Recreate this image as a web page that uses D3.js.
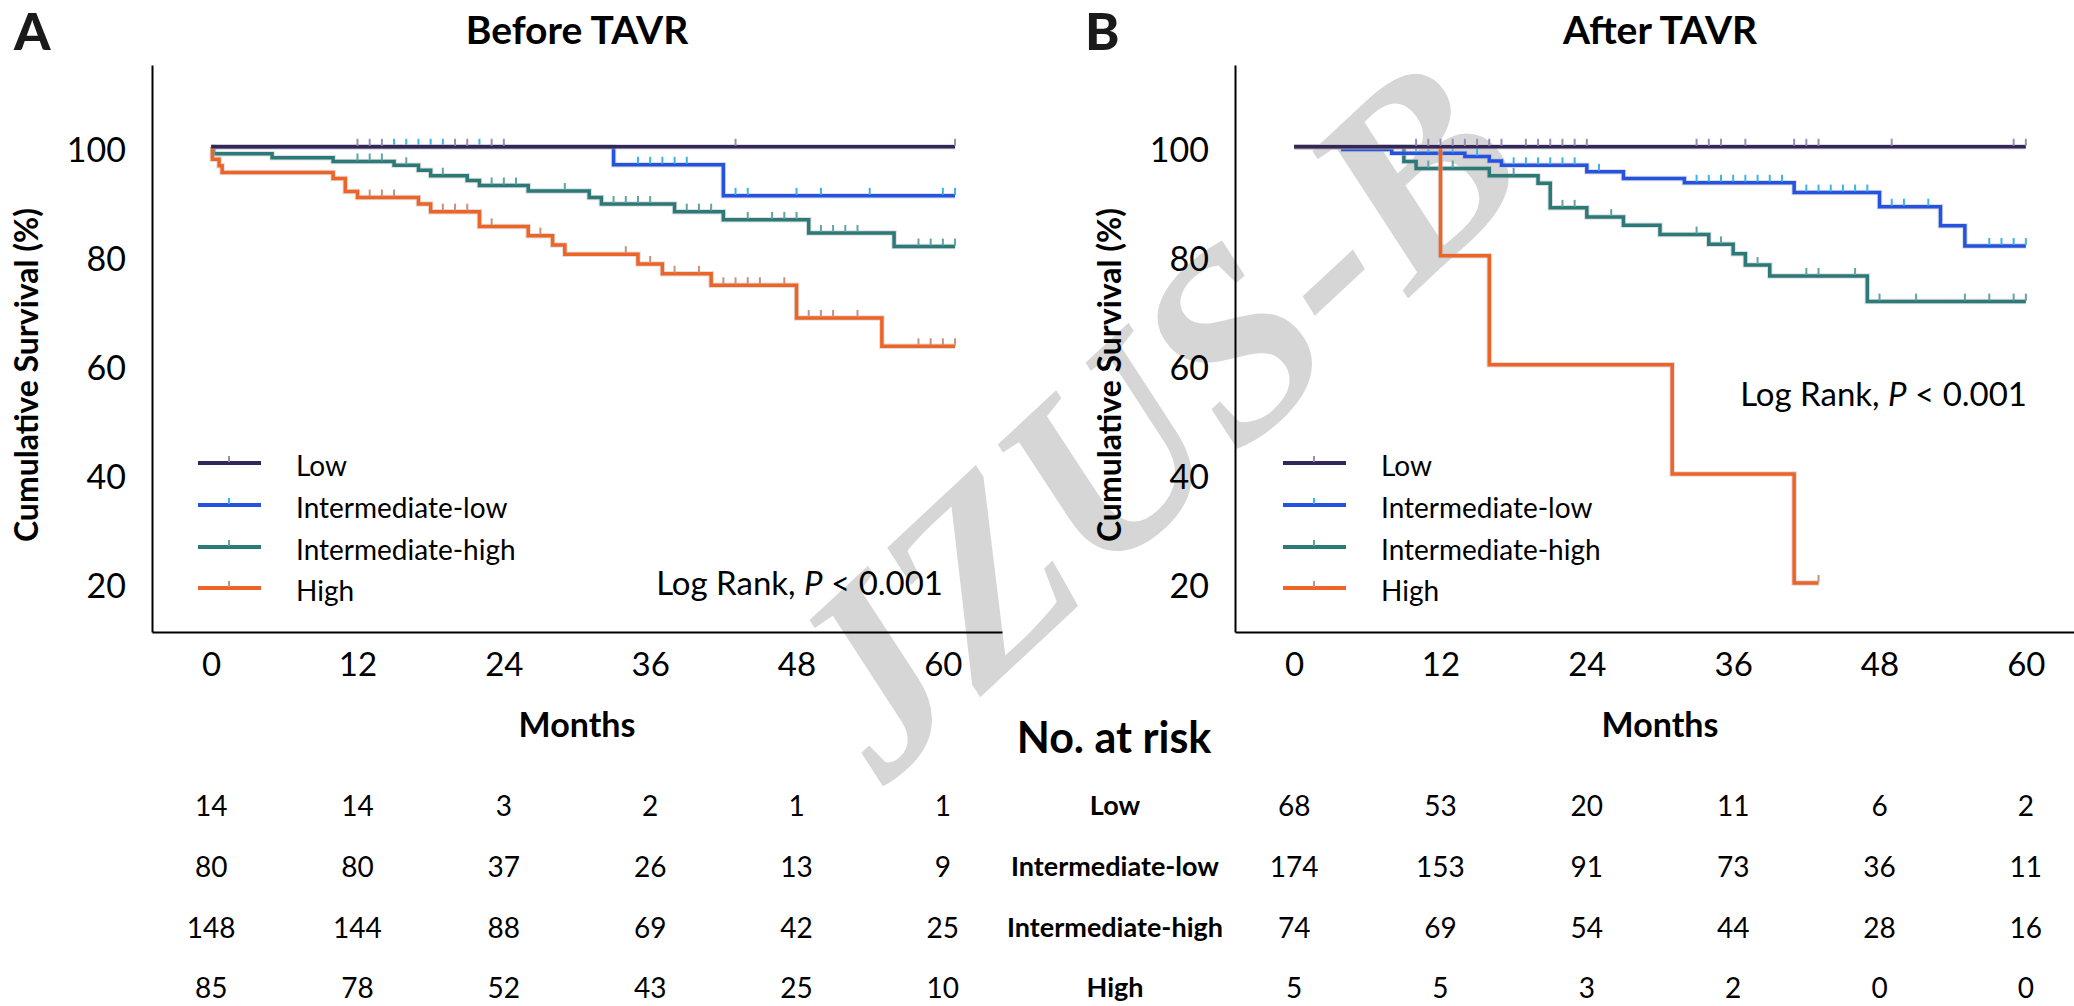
<!DOCTYPE html>
<html>
<head>
<meta charset="utf-8">
<script src="https://cdn.jsdelivr.net/npm/d3@7"></script>
<style>
  body { margin: 0; background: #fff; }
  svg { display: block; font-family: Lato, "Open Sans", sans-serif; }
</style>
</head>
<body>
<svg id="chart" width="2074" height="1006"></svg>
<script>
const groups = ['Low', 'Intermediate-low', 'Intermediate-high', 'High'];
const monthTicks = [0, 12, 24, 36, 48, 60];
const survivalTicks = [20, 40, 60, 80, 100];

// Before TAVR: [month, survival %] at every step
const beforeLow = [[0, 100]];
const beforeIntLow = [[0, 100], [33, 96.7], [42, 91.0]];
const beforeIntHigh = [[0, 100], [0.2, 98.7], [5, 98.0], [10, 97.3], [15, 96.6], [17, 95.7], [18, 94.7],
  [21, 93.8], [22, 92.9], [26, 91.9], [31, 90.7], [32, 89.5], [38, 88.1], [42, 86.6], [49, 84.2], [56, 81.7]];
const beforeHigh = [[0, 100], [0.1, 97.7], [0.65, 96.5], [0.9, 95.3], [10, 94.2], [11, 91.8], [12, 90.7],
  [17, 89.5], [18, 88.1], [22, 85.4], [26, 83.7], [28, 82.0], [29, 80.3], [35, 78.5], [37, 76.7],
  [41, 74.6], [48, 68.6], [55, 63.4]];
const beforeEnd = [61, 61, 61, 61];

// censored months
const beforeCensLow = [12, 13, 14, 20, 21, 23, 24, 43, 61];
const beforeCensIntLow = [15, 16, 17, 18, 19, 22, 35, 36, 37, 38, 39, 43, 44, 48, 50, 54, 60, 61];
const beforeCensIntHigh = [12, 13, 14, 16, 19, 23, 24, 25, 29, 33, 34, 35, 36, 39, 40, 41, 44, 46, 47, 48,
  50, 51, 52, 53, 58, 59, 60, 61];
const beforeCensHigh = [13, 14, 15, 19, 20, 21, 23, 27, 34, 36, 38, 40, 42, 43, 44, 45, 47, 49, 50, 51, 53,
  58, 59, 60, 61];

// After TAVR
const afterLow = [[0, 100]];
const afterIntLow = [[0, 100], [4, 99.5], [8, 98.8], [14, 98.2], [16, 97.4], [17, 96.6], [24, 95.4],
  [27, 94.2], [32, 93.4], [41, 91.6], [48, 89.0], [53, 85.5], [55, 81.8]];
const afterIntHigh = [[0, 100], [9, 97.3], [10, 96.0], [16, 94.7], [20, 93.3], [21, 88.8], [24, 87.1],
  [27, 85.6], [30, 83.9], [34, 82.1], [36, 80.4], [37, 78.3], [39, 76.3], [47, 71.6]];
const afterHigh = [[0, 100], [12, 80], [16, 60], [31, 40], [41, 20]];
const afterEnd = [60, 60, 60, 43];

const afterCensLow = [10, 11, 12, 13, 14, 15, 16, 17, 19, 20, 21, 22, 23, 24, 33, 34, 35, 37, 41, 42, 43, 49, 59, 60];
const afterCensIntLow = [10, 11, 12, 13, 15, 18, 19, 20, 21, 22, 23, 25, 33, 34, 35, 36, 37, 38, 39, 40,
  42, 43, 44, 45, 46, 47, 49, 50, 52, 57, 58, 59, 60];
const afterCensIntHigh = [11, 13, 18, 22, 23, 26, 33, 35, 38, 42, 43, 46, 48, 51, 55, 57, 59, 60];
const afterCensHigh = [43];

// No. at risk at 0, 12, 24, 36, 48, 60 months
const riskBeforeLow = [14, 14, 3, 2, 1, 1];
const riskBeforeIntLow = [80, 80, 37, 26, 13, 9];
const riskBeforeIntHigh = [148, 144, 88, 69, 42, 25];
const riskBeforeHigh = [85, 78, 52, 43, 25, 10];
const riskAfterLow = [68, 53, 20, 11, 6, 2];
const riskAfterIntLow = [174, 153, 91, 73, 36, 11];
const riskAfterIntHigh = [74, 69, 54, 44, 28, 16];
const riskAfterHigh = [5, 5, 3, 2, 0, 0];

const lineColor = ['#33265a', '#2552e0', '#2b7a78', '#ee6326'];
const censorColor = ['#9c8cb2', '#3fb2e6', '#62a3a3', '#c8917c'];

const panels = [
  {
    letter: 'A', title: 'Before TAVR', left: 152, letterX: 14,
    curves: [beforeLow, beforeIntLow, beforeIntHigh, beforeHigh], ends: beforeEnd,
    censored: [beforeCensLow, beforeCensIntLow, beforeCensIntHigh, beforeCensHigh],
    risk: [riskBeforeLow, riskBeforeIntLow, riskBeforeIntHigh, riskBeforeHigh],
    legendX: 198, logRank: [943, 595]
  },
  {
    letter: 'B', title: 'After TAVR', left: 1235, letterX: 1085,
    curves: [afterLow, afterIntLow, afterIntHigh, afterHigh], ends: afterEnd,
    censored: [afterCensLow, afterCensIntLow, afterCensIntHigh, afterCensHigh],
    risk: [riskAfterLow, riskAfterIntLow, riskAfterIntHigh, riskAfterHigh],
    legendX: 1283, logRank: [2027, 406]
  }
];

const PLOT_W = 850, TOP = 65, BOTTOM = 632;
const RISK_ROWS = [806, 867, 928, 988];
const LEGEND_ROWS = [463, 505, 547, 588];
const DRAW_ORDER = [2, 1, 3, 0]; // navy Low line sits on top

const svg = d3.select('#chart');

// watermark, behind everything
svg.append('text')
  .attr('transform', 'translate(1152,418) rotate(-43)')
  .attr('text-anchor', 'middle')
  .attr('dy', '0.33em')
  .style('font-family', '"Liberation Serif", serif')
  .style('font-style', 'italic')
  .style('font-weight', 'bold')
  .style('font-size', '264px')
  .attr('fill', '#d6d6d6')
  .text('JZUS-B');

const y = d3.scaleLinear().domain([11, 115]).range([BOTTOM, TOP]);

const valueAt = (steps, t) => {
  let v = steps[0][1];
  for (const [m, s] of steps) if (m <= t) v = s;
  return v;
};

panels.forEach(p => {
  const x = d3.scaleLinear().domain([-4.85, 64.85]).range([p.left, p.left + PLOT_W]);
  const g = svg.append('g');

  g.append('text')
    .attr('x', p.letterX).attr('y', 50)
    .style('font-size', '52px').style('font-weight', 900)
    .attr('fill', '#1a1a1a')
    .text(p.letter);

  g.append('text')
    .attr('x', x(30)).attr('y', 44)
    .attr('text-anchor', 'middle')
    .style('font-size', '39px').style('font-weight', 'bold')
    .text(p.title);

  // axes
  const yAxis = g.append('g')
    .attr('transform', `translate(${p.left},0)`)
    .call(d3.axisLeft(y).tickValues(survivalTicks).tickSize(0).tickPadding(26));
  yAxis.selectAll('text').attr('dy', '0.42em').style('font-size', '34px').style('font-family', 'Lato');

  const xAxis = g.append('g')
    .attr('transform', `translate(0,${BOTTOM})`)
    .call(d3.axisBottom(x).tickValues(monthTicks).tickSize(0).tickPadding(21));
  xAxis.selectAll('text').style('font-size', '33px').style('font-family', 'Lato');

  [yAxis, xAxis].forEach(a => {
    a.select('.domain').attr('stroke', '#000').attr('stroke-width', 2);
    a.selectAll('text').attr('fill', '#000');
  });

  g.append('text')
    .attr('transform', `translate(${p.left - 114},375) rotate(-90)`)
    .attr('text-anchor', 'middle')
    .style('font-size', '32px').style('font-weight', 'bold')
    .text('Cumulative Survival (%)');

  g.append('text')
    .attr('x', x(30)).attr('y', 737)
    .attr('text-anchor', 'middle')
    .style('font-size', '34px').style('font-weight', 'bold')
    .text('Months');

  // survival curves
  const line = d3.line()
    .x(d => x(d[0]))
    .y(d => y(d[1]))
    .curve(d3.curveStepAfter);

  DRAW_ORDER.forEach(i => {
    const steps = p.curves[i];
    const pts = steps.concat([[p.ends[i], steps[steps.length - 1][1]]]);
    const c = g.append('g');

    c.append('path')
      .attr('d', line(pts))
      .attr('fill', 'none')
      .attr('stroke', '#bdbdbd')
      .attr('stroke-opacity', 0.5)
      .attr('stroke-width', 5.5);

    c.append('path')
      .attr('d', line(pts))
      .attr('fill', 'none')
      .attr('stroke', lineColor[i])
      .attr('stroke-width', 3.5);

    c.selectAll('line')
      .data(p.censored[i])
      .join('line')
      .attr('x1', d => x(d)).attr('x2', d => x(d))
      .attr('y1', d => y(valueAt(steps, d)) - 1)
      .attr('y2', d => y(valueAt(steps, d)) - 8)
      .attr('stroke', censorColor[i])
      .attr('stroke-width', 2);
  });

  // legend
  const leg = g.append('g');
  groups.forEach((name, i) => {
    const ly = LEGEND_ROWS[i];
    leg.append('line')
      .attr('x1', p.legendX).attr('x2', p.legendX + 63)
      .attr('y1', ly).attr('y2', ly)
      .attr('stroke', lineColor[i]).attr('stroke-width', 4);
    leg.append('line')
      .attr('x1', p.legendX + 31).attr('x2', p.legendX + 31)
      .attr('y1', ly - 1).attr('y2', ly - 7)
      .attr('stroke', censorColor[i]).attr('stroke-width', 2);
    leg.append('text')
      .attr('x', p.legendX + 98).attr('y', ly + 3)
      .attr('dy', '0.35em')
      .style('font-size', '28px')
      .text(name);
  });

  const lr = g.append('text')
    .attr('x', p.logRank[0]).attr('y', p.logRank[1])
    .attr('text-anchor', 'end')
    .style('font-size', '33px');
  lr.append('tspan').text('Log Rank, ');
  lr.append('tspan').style('font-style', 'italic').text('P');
  lr.append('tspan').text(' < 0.001');

  // numbers at risk
  p.risk.forEach((row, r) => {
    g.selectAll(null)
      .data(row)
      .join('text')
      .attr('x', (d, k) => x(monthTicks[k]))
      .attr('y', RISK_ROWS[r])
      .attr('dy', '0.35em')
      .attr('text-anchor', 'middle')
      .style('font-size', '28px')
      .text(d => d);
  });
});

// shared risk-table header and row labels
svg.append('text')
  .attr('x', 1114).attr('y', 753)
  .attr('text-anchor', 'middle')
  .style('font-size', '43px').style('font-weight', 'bold')
  .text('No. at risk');

svg.selectAll('.risk-label')
  .data(groups)
  .join('text')
  .attr('class', 'risk-label')
  .attr('x', 1115)
  .attr('y', (d, i) => RISK_ROWS[i])
  .attr('dy', '0.35em')
  .attr('text-anchor', 'middle')
  .style('font-size', '27px').style('font-weight', 'bold')
  .text(d => d);
</script>
</body>
</html>
